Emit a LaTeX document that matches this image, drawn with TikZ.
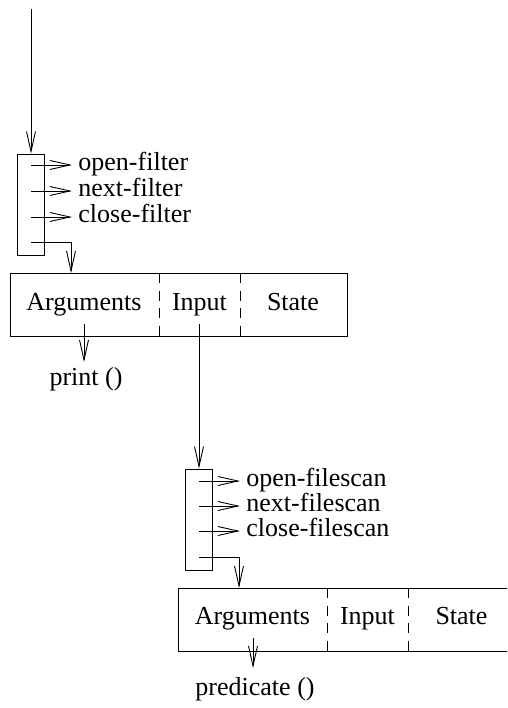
\documentclass[tikz,border=0pt]{standalone}
\usepackage{fontspec}
\setmainfont{Liberation Serif}
\usetikzlibrary{arrows.meta}
\tikzset{
  barb/.style={-{Straight Barb[length=20pt,width=9pt,line width=0.9pt]}},
  opbox/.style={draw, rectangle, minimum width=27pt, minimum height=101pt, inner sep=0pt},
  recbox/.style={draw, rectangle, minimum width=337pt, minimum height=63pt, inner sep=0pt},
  field/.style={font=\fontsize{26}{30}\selectfont, inner sep=0pt, anchor=base},
  oplabel/.style={font=\fontsize{26}{30}\selectfont, inner sep=0pt, anchor=base west},
  sep/.style={dash pattern=on 10pt off 7.5pt},
}
\begin{document}
\begin{tikzpicture}[x=1pt, y=-1pt, line width=0.9pt]
\useasboundingbox (0,0) rectangle (507,708);
\clip (0,0) rectangle (507,708);

% ---------- filter iterator ----------
\coordinate (fin) at (31,9);
\node[opbox] (fops) at (30.5,204.5) {};
\node[recbox] (frec) at (178.5,304.5) {};
\node[field] (farg) at (84,310) {Arguments};
\node[field] (finp) at (199.5,310) {Input};
\node[field] (fst) at (293,310) {State};
\draw[sep] (159,273) -- (159,336);
\draw[sep] (240,273) -- (240,336);

\draw[barb] (fin) -- (fin |- fops.north);
\coordinate (fo1) at (31,165);
\coordinate (fo2) at (31,191);
\coordinate (fo3) at (31,217);
\node[oplabel] (fopen) at (78,170.5) {open-filter};
\node[oplabel] (fnext) at (78,196.5) {next-filter};
\node[oplabel] (fclose) at (78,222.5) {close-filter};
\draw[barb] (fo1) -- (72,165);
\draw[barb] (fo2) -- (72,191);
\draw[barb] (fo3) -- (72,217);
\coordinate (fo4) at (31,242);
\draw[barb] (fo4) -- (71,242) -- (71,273);

\coordinate (fargout) at (84,324);
\node[field] (fprint) at (86,385) {print ()};
\draw[barb] (fargout) -- (84,362);

% ---------- filescan iterator ----------
\coordinate (sin) at (199,324);
\node[opbox] (sops) at (198.5,519.5) {};
\node[recbox] (srec) at (346.5,619.5) {};
\node[field] (sarg) at (252.5,624) {Arguments};
\node[field] (sinp) at (367.5,624) {Input};
\node[field] (sst) at (461.5,624) {State};
\draw[sep] (327,588) -- (327,651);
\draw[sep] (408,588) -- (408,651);

\draw[barb] (sin) -- (sin |- sops.north);
\coordinate (so1) at (199,481);
\coordinate (so2) at (199,506);
\coordinate (so3) at (199,531);
\node[oplabel] (sopen) at (246,486.5) {open-filescan};
\node[oplabel] (snext) at (246,511.5) {next-filescan};
\node[oplabel] (sclose) at (246,536.5) {close-filescan};
\draw[barb] (so1) -- (240,481);
\draw[barb] (so2) -- (240,506);
\draw[barb] (so3) -- (240,531);
\coordinate (so4) at (199,557);
\draw[barb] (so4) -- (239,557) -- (239,588);

\coordinate (sargout) at (253,638);
\node[field] (spred) at (255,695) {predicate ()};
\draw[barb] (sargout) -- (253,668);
\end{tikzpicture}
\end{document}
